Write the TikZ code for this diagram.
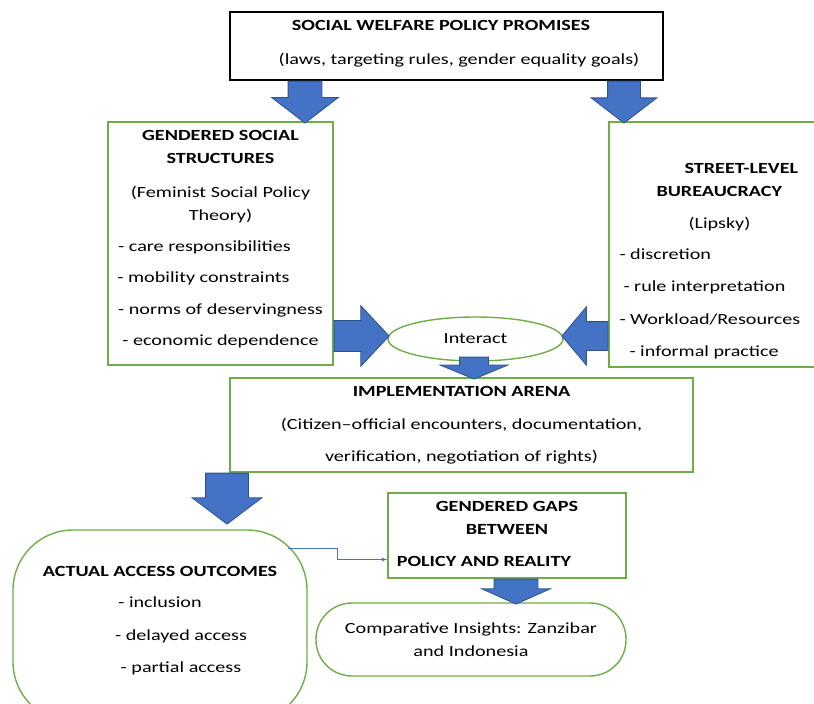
\documentclass[tikz,border=0pt]{standalone}
\usepackage{fontspec}
\setmainfont{Carlito}[FakeStretch=1.3]
\usetikzlibrary{shapes,arrows}
\definecolor{arrowblue}{HTML}{4472C4}
\definecolor{arrowedge}{HTML}{2F528F}
\definecolor{boxgreen}{HTML}{70AD47}
\tikzstyle{block} = [draw=boxgreen, line width=1.4pt, rectangle, inner sep=0pt]
\tikzstyle{topblock} = [draw=black, line width=1.4pt, rectangle, inner sep=0pt]
\tikzstyle{txt} = [font=\fontsize{15.5}{19}\selectfont, inner sep=0pt, align=center]
\tikzstyle{fat} = [single arrow, draw=arrowedge, fill=arrowblue, line width=0.8pt, inner xsep=0pt, anchor=tail]
\tikzstyle{conn} = [draw=arrowblue, line width=1pt]

\begin{document}
\begin{tikzpicture}[x=1pt, y=-1pt, >=latex']
\useasboundingbox (0,0) rectangle (814,704);

% We start by placing the boxes
\node [topblock, minimum width=433pt, minimum height=68pt] (policy) at (446.5,46) {};
\node [block, minimum width=225pt, minimum height=243pt] (gender) at (220.5,243.5) {};
\node [block, minimum width=207pt, minimum height=245pt] (street) at (712.5,244.5) {};
\node [txt, ellipse, draw=boxgreen, line width=1.4pt, minimum width=175pt, minimum height=44pt] (interact) at (475.5,339) {Interact};
\node [block, minimum width=463pt, minimum height=94pt] (impl) at (461.5,425) {};
\node [block, rounded corners=60pt, minimum width=294pt, minimum height=192pt] (access) at (160,626) {};
\node [block, minimum width=238pt, minimum height=85pt] (gaps) at (507,535.5) {};
\node [txt, block, rounded corners=36pt, minimum width=310pt, minimum height=73pt] (compare) at (471,639.5) {Comparative Insights: Zanzibar\\[4pt]and Indonesia};

% The texts sit at the top of their boxes
\node [txt, anchor=north] (policytxt) at ([xshift=3.5pt,yshift=-9pt]policy.north)
  {\textbf{SOCIAL WELFARE POLICY PROMISES}\hspace*{18pt}\mbox{}\\[15pt]\hspace*{18pt}(laws, targeting rules, gender equality goals)};
\node [txt, anchor=north] (gendertxt) at ([yshift=-9pt]gender.north)
  {\textbf{GENDERED SOCIAL}\\[3.5pt]\textbf{STRUCTURES}\\[15.5pt](Feminist Social Policy\\[3.5pt]Theory)\\[12pt]- care responsibilities\hspace*{32pt}\mbox{}\\[12.5pt]- mobility constraints\hspace*{34pt}\mbox{}\\[12.5pt]- norms of deservingness\\[12pt]- economic dependence};
\node [txt, anchor=north west, align=left] (streettxt) at ([xshift=11pt,yshift=-42pt]street.north west)
  {\hspace*{65pt}\textbf{STREET-LEVEL}\\[4pt]\hspace*{37pt}\textbf{BUREAUCRACY}\\[13pt]\hspace*{69pt}(Lipsky)\\[12pt]- discretion\\[13pt]\hspace*{4pt}- rule interpretation\\[14pt]- Workload/Resources\\[13pt]\hspace*{10pt}- informal practice};
\node [txt, anchor=north] (impltxt) at ([yshift=-9pt]impl.north)
  {\textbf{IMPLEMENTATION ARENA}\\[14pt](Citizen--official encounters, documentation,\\[13pt]verification, negotiation of rights)};
\node [txt, anchor=north] (accesstxt) at ([yshift=-37pt]access.north)
  {\textbf{ACTUAL ACCESS OUTCOMES}\\[12pt]- inclusion\\[14pt]\hspace*{42pt}- delayed access\\[13pt]\hspace*{42pt}- partial access};
\node [txt, anchor=north] (gapstxt) at ([yshift=-9pt]gaps.north)
  {\textbf{GENDERED GAPS}\\[4pt]\textbf{BETWEEN}\\[13pt]\textbf{POLICY AND REALITY}\hspace*{46pt}\mbox{}};

% Block arrows between the boxes
\node [fat, rotate=-90, minimum height=42pt, inner ysep=16.5pt, single arrow head extend=16.5pt, single arrow tip angle=105] (a1) at ([xshift=-141.5pt]policy.south) {};
\node [fat, rotate=-90, minimum height=42pt, inner ysep=16pt, single arrow head extend=16.5pt, single arrow tip angle=105] (a2) at ([xshift=177.5pt]policy.south) {};
\node [fat, minimum height=55pt, inner ysep=15pt, single arrow head extend=15pt, single arrow tip angle=94] (a3) at ([yshift=-92.5pt]gender.east) {};
\node [fat, rotate=180, minimum height=46pt, inner ysep=14pt, single arrow head extend=15pt, single arrow tip angle=100] (a4) at ([yshift=-91.5pt]street.west) {};
\node [fat, rotate=-90, minimum height=22pt, inner ysep=14pt, single arrow head extend=19.5pt, single arrow tip angle=135] (a5) at ([xshift=-1.5pt,yshift=5pt]interact.south) {};
\node [fat, rotate=-90, minimum height=51pt, inner ysep=21pt, single arrow head extend=13.5pt, single arrow tip angle=106] (a6) at ([xshift=-234.5pt]impl.south) {};
\node [fat, rotate=-90, minimum height=25pt, inner ysep=21.5pt, single arrow head extend=12.5pt, single arrow tip angle=132] (a7) at ([xshift=9pt]gaps.south) {};

% thin elbow link from outcomes to gaps
\draw [conn, ->] ([xshift=-20pt,yshift=-19pt]access.north east) -- ++(50,0) |- ([yshift=-24pt]gaps.west);
\end{tikzpicture}
\end{document}
